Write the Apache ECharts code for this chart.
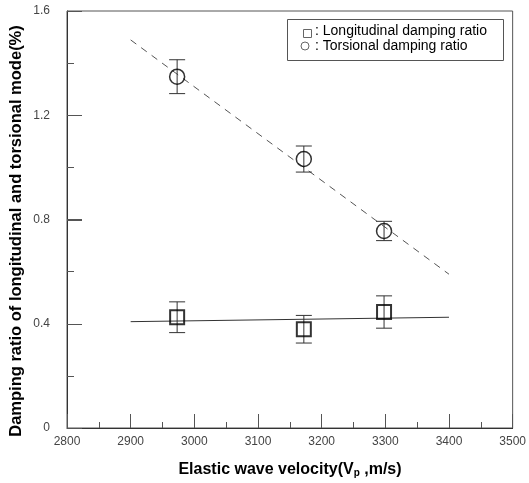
<!DOCTYPE html>
<html>
<head>
<meta charset="utf-8">
<script src="https://cdn.jsdelivr.net/npm/echarts@6/dist/echarts.min.js"></script>
<style>
  html, body { margin: 0; padding: 0; background: #fff; }
  #chart { width: 529px; height: 483px; }
</style>
</head>
<body>
<div id="chart"></div>
<script>
// Elastic wave velocity (m/s) of the three specimens
const velocity = [2973, 3172, 3298];

// Longitudinal damping ratio (%) with error half-widths
const longitudinal = [0.425, 0.379, 0.445];
const longitudinalErr = [0.059, 0.053, 0.062];

// Torsional damping ratio (%) with error half-widths
const torsional = [1.348, 1.032, 0.756];
const torsionalErr = [0.065, 0.050, 0.037];

// Fitted trend lines: [velocity, ratio] at both ends
const longitudinalFit = [[2900, 0.408], [3400, 0.425]];
const torsionalFit = [[2900, 1.489], [3400, 0.590]];

// Axis ranges and the major y tick values
const xRange = [2800, 3500, 100];
const yRange = [0, 1.6, 0.4];
const yMajorTicks = [0.4, 0.8, 1.2];

const FONT = 'Arial, "Liberation Sans", sans-serif';

function pairs(xs, ys) { return xs.map((x, i) => [x, ys[i]]); }
function bars(xs, ys, es) { return xs.map((x, i) => [x, ys[i] - es[i], ys[i] + es[i]]); }

function errorBar(params, api) {
  const x = api.value(0);
  const lo = api.coord([x, api.value(1)]);
  const hi = api.coord([x, api.value(2)]);
  const half = 8;
  const style = { stroke: '#333', lineWidth: 1 };
  return {
    type: 'group',
    children: [
      { type: 'line', shape: { x1: lo[0], y1: lo[1], x2: hi[0], y2: hi[1] }, style },
      { type: 'line', shape: { x1: hi[0] - half, y1: hi[1], x2: hi[0] + half, y2: hi[1] }, style },
      { type: 'line', shape: { x1: lo[0] - half, y1: lo[1], x2: lo[0] + half, y2: lo[1] }, style }
    ]
  };
}

// inward major tick on the left axis at a given ratio
function yTick(params, api) {
  const p = api.coord([xRange[0], api.value(0)]);
  const y = Math.round(p[1]) + 0.5;
  return {
    type: 'line',
    shape: { x1: p[0], y1: y, x2: p[0] + 15, y2: y },
    style: { stroke: '#555', lineWidth: 1 }
  };
}

const chart = echarts.init(document.getElementById('chart'), null, { renderer: 'canvas' });

chart.setOption({
  animation: false,
  backgroundColor: '#fff',
  grid: {
    left: 67, right: 15, top: 11, bottom: 55,
    show: true, borderColor: '#555', borderWidth: 1, backgroundColor: 'transparent'
  },
  xAxis: {
    type: 'value',
    min: xRange[0], max: xRange[1], interval: xRange[2],
    axisLine: { show: true, lineStyle: { color: '#333', width: 1 } },
    axisTick: { show: true, inside: true, length: 14, lineStyle: { color: '#555', width: 1 } },
    minorTick: { show: true, splitNumber: 2, length: 6, lineStyle: { color: '#555', width: 1 } },
    splitLine: { show: false },
    axisLabel: { color: '#444', fontFamily: FONT, fontSize: 12, margin: 8, formatter: v => String(v) }
  },
  yAxis: {
    type: 'value',
    min: yRange[0], max: yRange[1], interval: yRange[2],
    axisLine: { show: true, lineStyle: { color: '#333', width: 1 } },
    axisTick: { show: true, inside: true, length: 15, lineStyle: { color: '#555', width: 1 } },
    minorTick: { show: true, splitNumber: 2, length: 7, lineStyle: { color: '#555', width: 1 } },
    splitLine: { show: false },
    axisLabel: { color: '#444', fontFamily: FONT, fontSize: 12, margin: 17 }
  },
  series: [
    {
      type: 'custom', renderItem: yTick, data: yMajorTicks.map(v => [v]),
      silent: true, z: 1
    },
    {
      type: 'line', data: longitudinalFit, symbol: 'none',
      lineStyle: { color: '#333', width: 1 }, z: 1
    },
    {
      type: 'line', data: torsionalFit, symbol: 'none',
      lineStyle: { color: '#555', width: 1, type: [7, 6] }, z: 1
    },
    {
      type: 'custom', renderItem: errorBar,
      data: bars(velocity, longitudinal, longitudinalErr), z: 2
    },
    {
      type: 'custom', renderItem: errorBar,
      data: bars(velocity, torsional, torsionalErr), z: 2
    },
    {
      type: 'scatter', data: pairs(velocity, longitudinal),
      symbol: 'rect', symbolSize: 14,
      itemStyle: { color: 'rgba(0,0,0,0)', borderColor: '#000', borderWidth: 2 }, z: 3
    },
    {
      type: 'scatter', data: pairs(velocity, torsional),
      symbol: 'circle', symbolSize: 15,
      itemStyle: { color: 'rgba(0,0,0,0)', borderColor: '#000', borderWidth: 1.5 }, z: 3
    }
  ],
  graphic: [
    // legend box
    {
      type: 'rect', left: 287, top: 19, z: 10,
      shape: { width: 216, height: 41 },
      style: { fill: '#fff', stroke: '#555', lineWidth: 1 }
    },
    {
      type: 'rect', left: 301, top: 27, z: 11,
      shape: { width: 8, height: 8 },
      style: { fill: 'none', stroke: '#666', lineWidth: 1 }
    },
    {
      type: 'circle', z: 11,
      shape: { cx: 305, cy: 46, r: 4 },
      style: { fill: 'none', stroke: '#666', lineWidth: 1 }
    },
    {
      type: 'text', left: 315, top: 24, z: 11,
      style: { text: ': Longitudinal damping ratio', font: '14px ' + FONT, fill: '#000' }
    },
    {
      type: 'text', left: 315, top: 39, z: 11,
      style: { text: ': Torsional damping ratio', font: '14px ' + FONT, fill: '#000' }
    },
    // axis titles
    {
      type: 'text', z: 11, x: 16, y: 231, rotation: Math.PI / 2,
      style: {
        text: 'Damping ratio of longitudinal and torsional mode(%)',
        font: 'bold 16.5px ' + FONT, fill: '#000', align: 'center', verticalAlign: 'middle'
      }
    },
    {
      type: 'text', z: 11, x: 290, y: 470,
      style: {
        text: '{t|Elastic wave velocity(V}{s|p}{t| ,m/s)}',
        align: 'center', verticalAlign: 'middle',
        rich: {
          t: { font: 'bold 16px ' + FONT, fill: '#000' },
          s: { font: 'bold 10px ' + FONT, fill: '#000', padding: [6, 0, 0, 0] }
        }
      }
    }
  ]
});
</script>
</body>
</html>
